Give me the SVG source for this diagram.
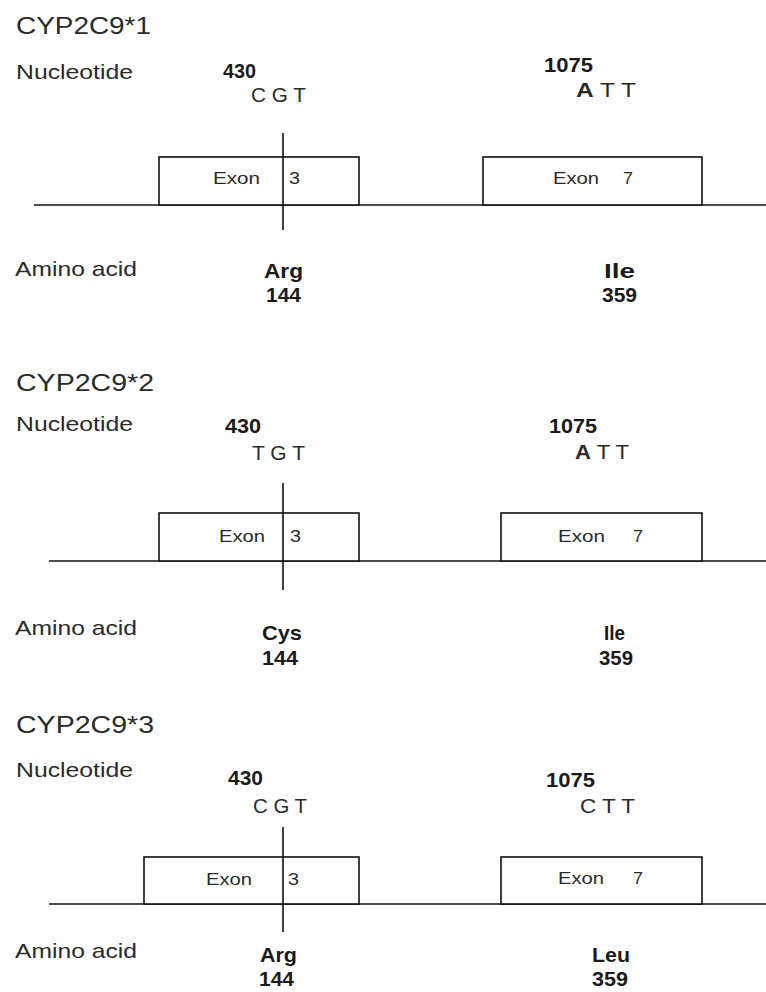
<svg xmlns="http://www.w3.org/2000/svg" width="766" height="992" viewBox="0 0 766 992">
<style>
text{font-family:"Liberation Sans",Arial,sans-serif;fill:#2a2a2a}
.title{font-size:24px}
.lbl{font-size:21px}
.num{font-size:20px;font-weight:bold;fill:#1a1a1a}
.nt{font-size:20px}
.ntb{font-weight:bold}
.ex{font-size:16px}
.aa{font-size:21px;font-weight:bold;fill:#1a1a1a}
.ln{stroke:#111;stroke-width:1.6;fill:none}
.box{stroke:#111;stroke-width:1.6;fill:#fff}
</style>
<rect width="766" height="992" fill="#fff"/>

<!-- Panel 1 -->
<g id="panel1">
  <text class="title" x="16" y="34" textLength="135" lengthAdjust="spacingAndGlyphs">CYP2C9*1</text>
  <text class="lbl" x="16" y="79" textLength="117" lengthAdjust="spacingAndGlyphs">Nucleotide</text>
  <text class="lbl" x="15" y="276" textLength="122" lengthAdjust="spacingAndGlyphs">Amino acid</text>
  <g id="p1-backbone"><line class="ln" x1="34" y1="205" x2="766" y2="205"/></g>
  <g id="p1-exon3">
    <rect class="box" x="159" y="157" width="200" height="48"/>
    <text class="ex" x="213" y="184" textLength="47" lengthAdjust="spacingAndGlyphs">Exon</text>
    <text class="ex" x="289" y="184" textLength="11" lengthAdjust="spacingAndGlyphs">3</text>
  </g>
  <g id="p1-exon7">
    <rect class="box" x="483" y="157" width="219" height="48"/>
    <text class="ex" x="553" y="184" textLength="46" lengthAdjust="spacingAndGlyphs">Exon</text>
    <text class="ex" x="623" y="184" textLength="10" lengthAdjust="spacingAndGlyphs">7</text>
  </g>
  <g id="p1-site430">
    <text class="num" x="223" y="78" textLength="33" lengthAdjust="spacingAndGlyphs">430</text>
    <text class="nt" x="251" y="102" textLength="55" lengthAdjust="spacingAndGlyphs">C G T</text>
    <line class="ln" x1="283" y1="133" x2="283" y2="230"/>
    <text class="aa" x="264" y="278" textLength="39" lengthAdjust="spacingAndGlyphs">Arg</text>
    <text class="aa" x="266" y="302" textLength="35" lengthAdjust="spacingAndGlyphs">144</text>
  </g>
  <g id="p1-site1075">
    <text class="num" x="544" y="72" textLength="49" lengthAdjust="spacingAndGlyphs">1075</text>
    <text class="nt" x="576" y="97" textLength="60" lengthAdjust="spacingAndGlyphs"><tspan class="ntb">A</tspan> T T</text>
    <text class="aa" x="604" y="278" textLength="31" lengthAdjust="spacingAndGlyphs">Ile</text>
    <text class="aa" x="602" y="302" textLength="35" lengthAdjust="spacingAndGlyphs">359</text>
  </g>
</g>

<!-- Panel 2 -->
<g id="panel2">
  <text class="title" x="16" y="391" textLength="138" lengthAdjust="spacingAndGlyphs">CYP2C9*2</text>
  <text class="lbl" x="16" y="431" textLength="117" lengthAdjust="spacingAndGlyphs">Nucleotide</text>
  <text class="lbl" x="15" y="635" textLength="122" lengthAdjust="spacingAndGlyphs">Amino acid</text>
  <g id="p2-backbone"><line class="ln" x1="49" y1="561" x2="766" y2="561"/></g>
  <g id="p2-exon3">
    <rect class="box" x="159" y="513" width="200" height="48"/>
    <text class="ex" x="219" y="542" textLength="46" lengthAdjust="spacingAndGlyphs">Exon</text>
    <text class="ex" x="290" y="542" textLength="11" lengthAdjust="spacingAndGlyphs">3</text>
  </g>
  <g id="p2-exon7">
    <rect class="box" x="501" y="513" width="201" height="48"/>
    <text class="ex" x="558" y="542" textLength="47" lengthAdjust="spacingAndGlyphs">Exon</text>
    <text class="ex" x="633" y="542" textLength="10" lengthAdjust="spacingAndGlyphs">7</text>
  </g>
  <g id="p2-site430">
    <text class="num" x="225" y="433" textLength="36" lengthAdjust="spacingAndGlyphs">430</text>
    <text class="nt" x="252" y="460" textLength="53" lengthAdjust="spacingAndGlyphs">T G T</text>
    <line class="ln" x1="283" y1="483" x2="283" y2="590"/>
    <text class="aa" x="262" y="640" textLength="40" lengthAdjust="spacingAndGlyphs">Cys</text>
    <text class="aa" x="262" y="665" textLength="36" lengthAdjust="spacingAndGlyphs">144</text>
  </g>
  <g id="p2-site1075">
    <text class="num" x="549" y="433" textLength="48" lengthAdjust="spacingAndGlyphs">1075</text>
    <text class="nt" x="575" y="459" textLength="54" lengthAdjust="spacingAndGlyphs"><tspan class="ntb">A</tspan> T T</text>
    <text class="aa" x="604" y="640" textLength="21" lengthAdjust="spacingAndGlyphs">Ile</text>
    <text class="aa" x="599" y="665" textLength="34" lengthAdjust="spacingAndGlyphs">359</text>
  </g>
</g>

<!-- Panel 3 -->
<g id="panel3">
  <text class="title" x="16" y="733" textLength="138" lengthAdjust="spacingAndGlyphs">CYP2C9*3</text>
  <text class="lbl" x="16" y="777" textLength="117" lengthAdjust="spacingAndGlyphs">Nucleotide</text>
  <text class="lbl" x="15" y="958" textLength="122" lengthAdjust="spacingAndGlyphs">Amino acid</text>
  <g id="p3-backbone"><line class="ln" x1="49" y1="904" x2="766" y2="904"/></g>
  <g id="p3-exon3">
    <rect class="box" x="144" y="857" width="215" height="47"/>
    <text class="ex" x="206" y="885" textLength="46" lengthAdjust="spacingAndGlyphs">Exon</text>
    <text class="ex" x="288" y="885" textLength="11" lengthAdjust="spacingAndGlyphs">3</text>
  </g>
  <g id="p3-exon7">
    <rect class="box" x="501" y="857" width="201" height="47"/>
    <text class="ex" x="558" y="884" textLength="46" lengthAdjust="spacingAndGlyphs">Exon</text>
    <text class="ex" x="633" y="884" textLength="10" lengthAdjust="spacingAndGlyphs">7</text>
  </g>
  <g id="p3-site430">
    <text class="num" x="228" y="785" textLength="35" lengthAdjust="spacingAndGlyphs">430</text>
    <text class="nt" x="253" y="813" textLength="54" lengthAdjust="spacingAndGlyphs">C G T</text>
    <line class="ln" x1="283" y1="827" x2="283" y2="932"/>
    <text class="aa" x="260" y="962" textLength="37" lengthAdjust="spacingAndGlyphs">Arg</text>
    <text class="aa" x="259" y="986" textLength="35" lengthAdjust="spacingAndGlyphs">144</text>
  </g>
  <g id="p3-site1075">
    <text class="num" x="546" y="787" textLength="49" lengthAdjust="spacingAndGlyphs">1075</text>
    <text class="nt" x="580" y="813" textLength="55" lengthAdjust="spacingAndGlyphs">C T T</text>
    <text class="aa" x="592" y="962" textLength="38" lengthAdjust="spacingAndGlyphs">Leu</text>
    <text class="aa" x="592" y="986" textLength="36" lengthAdjust="spacingAndGlyphs">359</text>
  </g>
</g>
</svg>
